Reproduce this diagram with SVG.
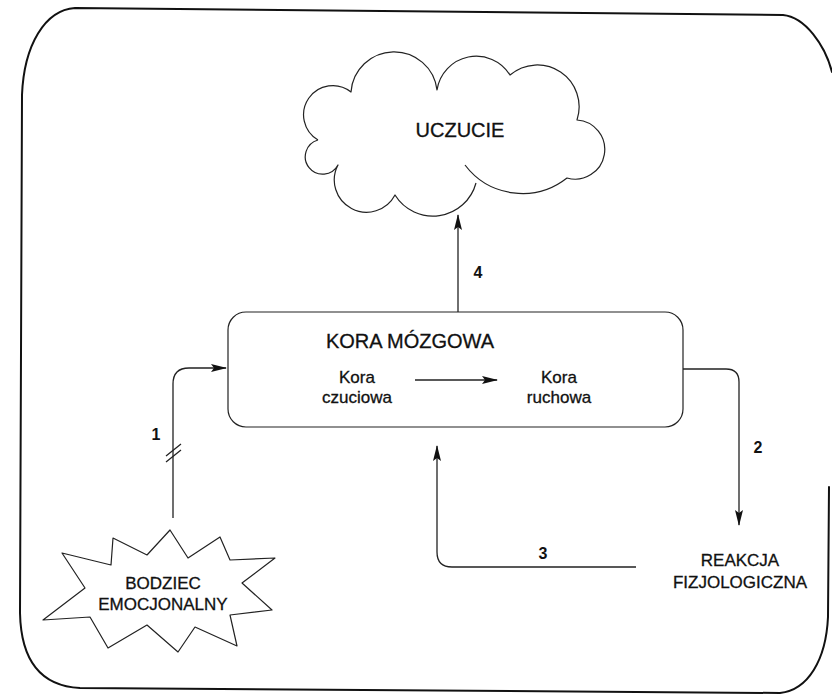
<svg xmlns="http://www.w3.org/2000/svg" width="832" height="694" viewBox="0 0 832 694">
  <style>
    .frame { fill: none; stroke: #111; stroke-width: 2; stroke-linecap: round; }
    .shape { fill: #fff; stroke: #222; stroke-width: 1.2; stroke-linejoin: round; }
    .line { fill: none; stroke: #222; stroke-width: 1.3; }
    .t { font-family: "Liberation Sans", Arial, sans-serif; fill: #111; stroke: #111; stroke-width: 0.3; text-anchor: middle; }
    .sub { font-size: 17px; }
    .num { font-size: 16px; font-weight: bold; stroke-width: 0; }
  </style>
  <defs>
    <marker id="arrow" viewBox="0 0 16 10" refX="15" refY="5" markerWidth="16" markerHeight="10" markerUnits="userSpaceOnUse" orient="auto">
      <path d="M0,1 L16,5 L0,9 L3,5 Z" fill="#111"/>
    </marker>
  </defs>

  <rect width="832" height="694" fill="#fff"/>

  <!-- outer border (right side runs past the page edge) -->
  <path class="frame" d="M829,487 L828,617 C826,660 808,690 780,693 L80,688 C40,686 21,660 20,613 L22,95 C24,45 45,10 75,8 L783,15 C805,17 825,45 832,72"/>

  <g id="uczucie">
    <path class="shape" d="M318,140 A29.2,29.2 0 1 1 351,92 A43.2,43.2 0 0 1 437,90 A39.7,39.7 0 0 1 510,75 A41.9,41.9 0 0 1 577,120 A29.6,29.6 0 1 1 567,178 A72,72 0 0 1 465,165 M476,183 A44.6,44.6 0 0 1 395,195 A32.2,32.2 0 0 1 338,165 A17.4,17.4 0 1 1 318,140"/>
    <text class="t" x="460" y="137" font-size="20">UCZUCIE</text>
  </g>

  <g id="kora-mozgowa">
    <rect class="shape" x="228" y="312" width="455" height="115" rx="18"/>
    <text class="t" x="410" y="348" font-size="20">KORA MÓZGOWA</text>
    <text class="t sub" x="357" y="383">Kora</text>
    <text class="t sub" x="357" y="403">czuciowa</text>
    <text class="t sub" x="559" y="383">Kora</text>
    <text class="t sub" x="559" y="403">ruchowa</text>
  </g>

  <g id="bodziec">
    <polygon class="shape" points="170,530 188,558 220,537 230,560 275,558 242,583 272,610 230,615 237,646 195,627 178,652 147,625 108,648 90,617 43,620 85,588 62,553 111,565 113,538 147,555"/>
    <text class="t" x="163" y="589" font-size="17">BODZIEC</text>
    <text class="t" x="163" y="610" font-size="17">EMOCJONALNY</text>
  </g>

  <g id="reakcja">
    <text class="t" x="740" y="566" font-size="17">REAKCJA</text>
    <text class="t" x="740" y="588" font-size="17">FIZJOLOGICZNA</text>
  </g>

  <g id="connectors">
    <!-- 1: stimulus to cortex -->
    <path class="line" d="M173,518 V384 Q173,368 189,368 H226" marker-end="url(#arrow)"/>
    <path class="line" d="M166,456 L181,444 M166,462 L181,450"/>
    <!-- 2: cortex to physiological reaction -->
    <path class="line" d="M683,369 H726 Q739,369 739,382 V525" marker-end="url(#arrow)"/>
    <!-- 3: physiological reaction back to cortex -->
    <path class="line" d="M636,567 H452 Q437,567 437,552 V446" marker-end="url(#arrow)"/>
    <!-- 4: cortex to feeling -->
    <path class="line" d="M458,312 V215" marker-end="url(#arrow)"/>
    <!-- sensory to motor cortex -->
    <path class="line" d="M415,380 H497" marker-end="url(#arrow)"/>
    <text class="t num" x="156" y="440">1</text>
    <text class="t num" x="758" y="453">2</text>
    <text class="t num" x="543" y="559">3</text>
    <text class="t num" x="478" y="278">4</text>
  </g>
</svg>
